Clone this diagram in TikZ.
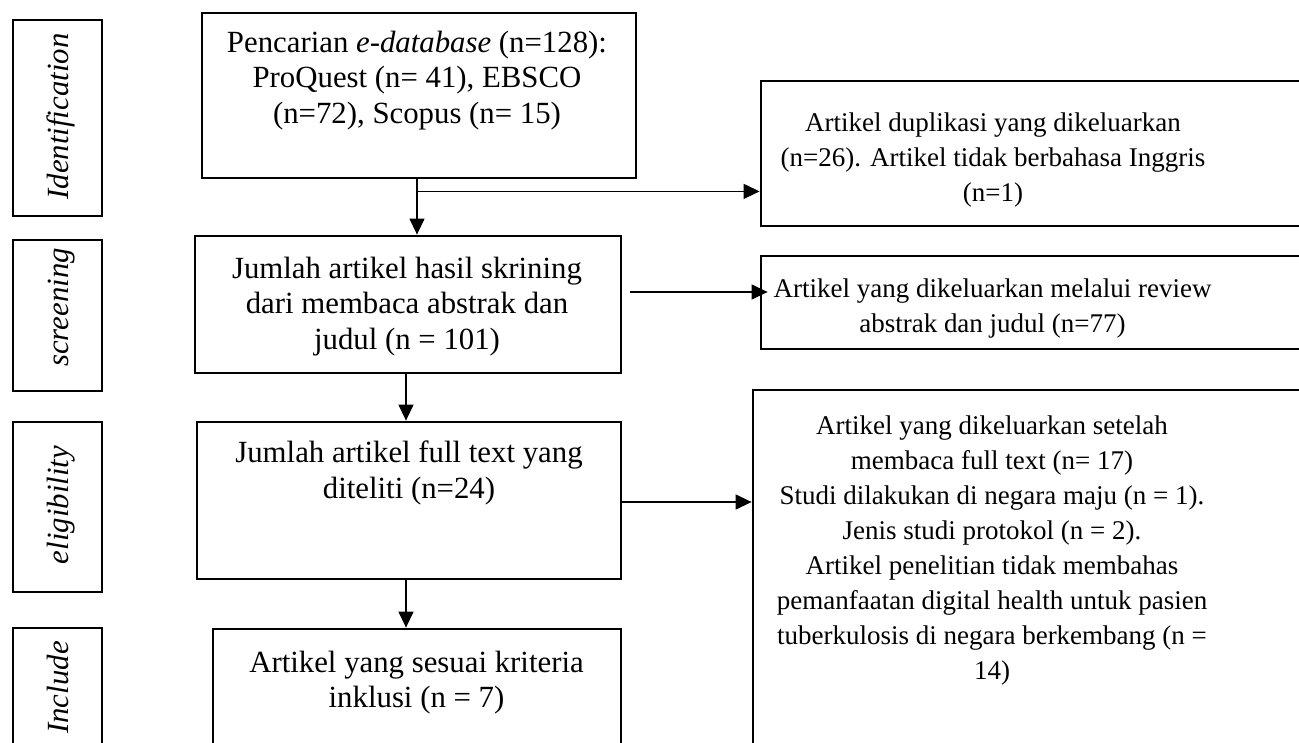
\documentclass[tikz,border=0pt]{standalone}
\usepackage{fontspec}
\setmainfont{Liberation Serif}
\usetikzlibrary{arrows.meta}

\begin{document}
\begin{tikzpicture}[x=1pt, y=-1pt, every node/.style={inner sep=0pt},
  box/.style={draw, line width=2.8pt},
  txt/.style={align=center, font=\fontsize{27}{35}\selectfont},
  bigtxt/.style={align=center, font=\fontsize{30.8}{35.5}\selectfont},
  side/.style={rotate=90, anchor=base, font=\fontsize{30.8}{35}\selectfont\itshape},
  arr/.style={line width=1.3pt, -{Triangle[length=16pt,width=15pt]}}]
\useasboundingbox (0,0) rectangle (1299,742);
\clip (0,0) rectangle (1299,742);

% stage labels on the left
\foreach \n/\yc/\h/\ty/\lab in {id/118/196/116.5/Identification, scr/315.5/151/307.5/screening,
                                elig/507/170/505/eligibility, incl/694/132/687.5/Include} {
  \node[box, minimum width=89pt, minimum height=\h pt] (\n) at (57.5,\yc) {};
  \node[side] (\n txt) at (68,\ty) {\lab};
}

% main column
\node[box, minimum width=434pt, minimum height=165pt] (search) at (419,95.5) {};
\node[bigtxt] (searchtxt) at (417,80.5) {Pencarian \textit{e-database} (n=128):\\ProQuest (n= 41), EBSCO\\(n=72), Scopus (n= 15)};
\node[box, minimum width=426pt, minimum height=137pt] (screen) at (408,304.5) {};
\node[bigtxt] (screentxt) at (407,306.5) {Jumlah artikel hasil skrining\\dari membaca abstrak dan\\judul (n = 101)};
\node[box, minimum width=424pt, minimum height=157pt] (full) at (409,500.5) {};
\node[bigtxt] (fulltxt) at (409,473) {Jumlah artikel full text yang\\diteliti (n=24)};
\node[box, minimum width=408pt, minimum height=131pt] (include) at (417,694.5) {};
\node[bigtxt] (includetxt) at (416.5,682.5) {Artikel yang sesuai kriteria\\inklusi (n = 7)};

% excluded column
\node[box, minimum width=559pt, minimum height=145pt] (excl1) at (1040.5,153.5) {};
\node[txt] (excl1txt) at (993,160.5) {Artikel duplikasi yang dikeluarkan\\(n=26). Artikel tidak berbahasa Inggris\\(n=1)};
\node[box, minimum width=559pt, minimum height=93pt] (excl2) at (1040.5,302.5) {};
\node[txt] (excl2txt) at (992.5,309) {Artikel yang dikeluarkan melalui review\\abstrak dan judul (n=77)};
\node[box, minimum width=567pt, minimum height=370pt] (excl3) at (1036.5,575) {};
\node[txt] (excl3txt) at (992,550.5) {Artikel yang dikeluarkan setelah\\membaca full text (n= 17)\\Studi dilakukan di negara maju (n = 1).\\Jenis studi protokol (n = 2).\\Artikel penelitian tidak membahas\\pemanfaatan digital health untuk pasien\\tuberkulosis di negara berkembang (n =\\14)};

% arrows
\coordinate (split) at ([xshift=-2pt,yshift=-12pt]search.south);
\draw[arr] ([xshift=-2pt]search.south) -- ([xshift=-2pt]search.south |- screen.north);
\draw[arr] (split) -- (split -| excl1.west);
\draw[arr] ([shift={(8pt,12.5pt)}]screen.east) -- ([shift={(8pt,12.5pt)}]screen.east -| excl2.west);
\draw[arr] ([xshift=-2pt]screen.south) -- ([xshift=-2pt]screen.south |- full.north);
\draw[arr] ([yshift=-1.5pt]full.east) -- ([yshift=-1.5pt]full.east -| excl3.west);
\draw[arr] ([xshift=-3pt]full.south) -- ([xshift=-3pt]full.south |- include.north);
\end{tikzpicture}
\end{document}
